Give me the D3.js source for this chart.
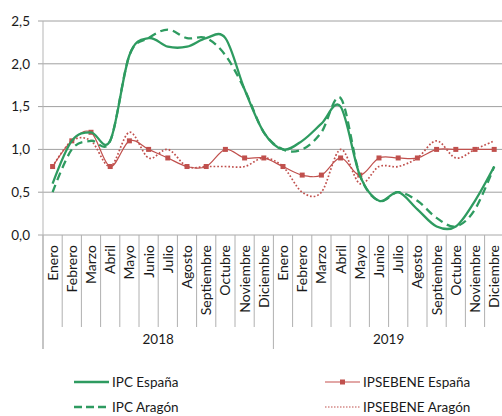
<!DOCTYPE html>
<html><head><meta charset="utf-8">
<script src="https://cdn.jsdelivr.net/npm/d3@7"></script>
<style>body{margin:0;background:#fff}svg{display:block}text{font-family:Lato,"Open Sans",sans-serif;fill:#1a1a1a}</style>
</head><body><svg id="c" width="502" height="416"></svg>
<script>
const months = ["Enero","Febrero","Marzo","Abril","Mayo","Junio","Julio","Agosto","Septiembre","Octubre","Noviembre","Diciembre"];
const years = ["2018","2019"];
const yTicks = [0,0.5,1,1.5,2,2.5];
const ipcEspana = [0.6,1.1,1.2,1.1,2.1,2.3,2.2,2.2,2.3,2.3,1.7,1.2, 1.0,1.1,1.3,1.5,0.7,0.4,0.5,0.3,0.1,0.1,0.4,0.8];
const ipcAragon = [0.5,1.0,1.1,1.1,2.1,2.3,2.4,2.3,2.3,2.1,1.7,1.2, 1.0,1.0,1.2,1.6,0.7,0.4,0.5,0.4,0.2,0.1,0.3,0.8];
const ipsEspana = [0.8,1.1,1.2,0.8,1.1,1.0,0.9,0.8,0.8,1.0,0.9,0.9, 0.8,0.7,0.7,0.9,0.7,0.9,0.9,0.9,1.0,1.0,1.0,1.0];
const ipsAragon = [0.8,1.1,1.1,0.8,1.2,0.9,1.0,0.8,0.8,0.8,0.8,0.9, 0.8,0.5,0.5,1.0,0.6,0.8,0.8,0.9,1.1,0.9,1.0,1.1];
const seriesNames = ["IPC España","IPC Aragón","IPSEBENE España","IPSEBENE Aragón"];

const cats = [];
years.forEach(yr => months.forEach(m => cats.push(yr + "-" + m)));
const svg = d3.select("#c");
const pL = 43, pR = 503.8, pT = 21, pB = 235;
const x = d3.scaleBand().domain(cats).range([pL, pR]);
const y = d3.scaleLinear().domain([0, 2.5]).range([pB, pT]);
const cx = i => x(cats[i]) + x.bandwidth()/2;
const green = "#2e9b60", red = "#c0504d", grid = "#a0a0a0";

svg.append("g").selectAll("line").data(yTicks).join("line")
  .attr("x1", pL-5).attr("x2", 502).attr("y1", d=>y(d)).attr("y2", d=>y(d))
  .attr("stroke", d => d===0 ? "#a8a8a8" : grid).attr("stroke-width", 1);
svg.append("line").attr("x1", pL).attr("x2", pL).attr("y1", pT).attr("y2", 349).attr("stroke", "#b5b5b5");
svg.append("g").selectAll("text").data(yTicks).join("text")
  .attr("x", 30).attr("y", d=>y(d)).attr("dy","0.35em").attr("text-anchor","end")
  .attr("font-size", 13.5).text(d => d3.format(".1f")(d).replace(".", ","));
const seps = d3.range(0, cats.length+1);
svg.append("g").selectAll("line").data(seps).join("line")
  .attr("x1", i => pL + i*x.step()).attr("x2", i => pL + i*x.step())
  .attr("y1", pB).attr("y2", i => i%12===0 ? 349 : 327)
  .attr("stroke", "#b0b0b0");
svg.append("g").selectAll("text").data(cats).join("text")
  .attr("transform", (d,i) => `translate(${cx(i)+5},${pB+10}) rotate(-90)`)
  .attr("text-anchor","end").attr("font-size", 14).text(d => d.split("-")[1]);
svg.append("g").selectAll("text").data(years).join("text")
  .attr("x", (d,i) => pL + (i*12+6)*x.step()).attr("y", 339).attr("dy","0.35em")
  .attr("text-anchor","middle").attr("font-size", 13.5).text(d=>d);

const line = d3.line().x((d,i)=>cx(i)).y(d=>y(d)).curve(d3.curveCatmullRom.alpha(0));
svg.append("path").attr("d", line(ipsAragon)).attr("fill","none").attr("stroke", red)
  .attr("stroke-width", 1.7).attr("stroke-dasharray","1.7,2");
svg.append("path").attr("d", line(ipsEspana)).attr("fill","none").attr("stroke", red).attr("stroke-width", 1.2);
svg.append("g").selectAll("rect").data(ipsEspana).join("rect")
  .attr("x",(d,i)=>cx(i)-2.5).attr("y",d=>y(d)-2.5).attr("width",5).attr("height",5).attr("fill", red);
svg.append("path").attr("d", line(ipcAragon)).attr("fill","none").attr("stroke", green)
  .attr("stroke-width", 2.3).attr("stroke-dasharray","8,5");
svg.append("path").attr("d", line(ipcEspana)).attr("fill","none").attr("stroke", green).attr("stroke-width", 2.3);

const leg = [
  {name: seriesNames[0], x: 74, y: 382, stroke: green, w: 2.3, dash: null, marker: false},
  {name: seriesNames[1], x: 74, y: 407, stroke: green, w: 2.3, dash: "8,4", marker: false},
  {name: seriesNames[2], x: 325, y: 382, stroke: "#d98a88", w: 1.6, dash: null, marker: true},
  {name: seriesNames[3], x: 325, y: 407, stroke: red, w: 1.2, dash: "1.5,1.5", marker: false}
];
const lg = svg.append("g").selectAll("g").data(leg).join("g");
lg.append("line").attr("x1", d=>d.x).attr("x2", d=>d.x+35).attr("y1", d=>d.y).attr("y2", d=>d.y)
  .attr("stroke", d=>d.stroke).attr("stroke-width", d=>d.w).attr("stroke-dasharray", d=>d.dash);
lg.filter(d=>d.marker).append("rect").attr("x", d=>d.x+15).attr("y", d=>d.y-2.5).attr("width",5).attr("height",5).attr("fill", red);
lg.append("text").attr("x", d=>d.x+38).attr("y", d=>d.y).attr("dy","0.35em").attr("font-size", 13.5).text(d=>d.name);
</script></body></html>
